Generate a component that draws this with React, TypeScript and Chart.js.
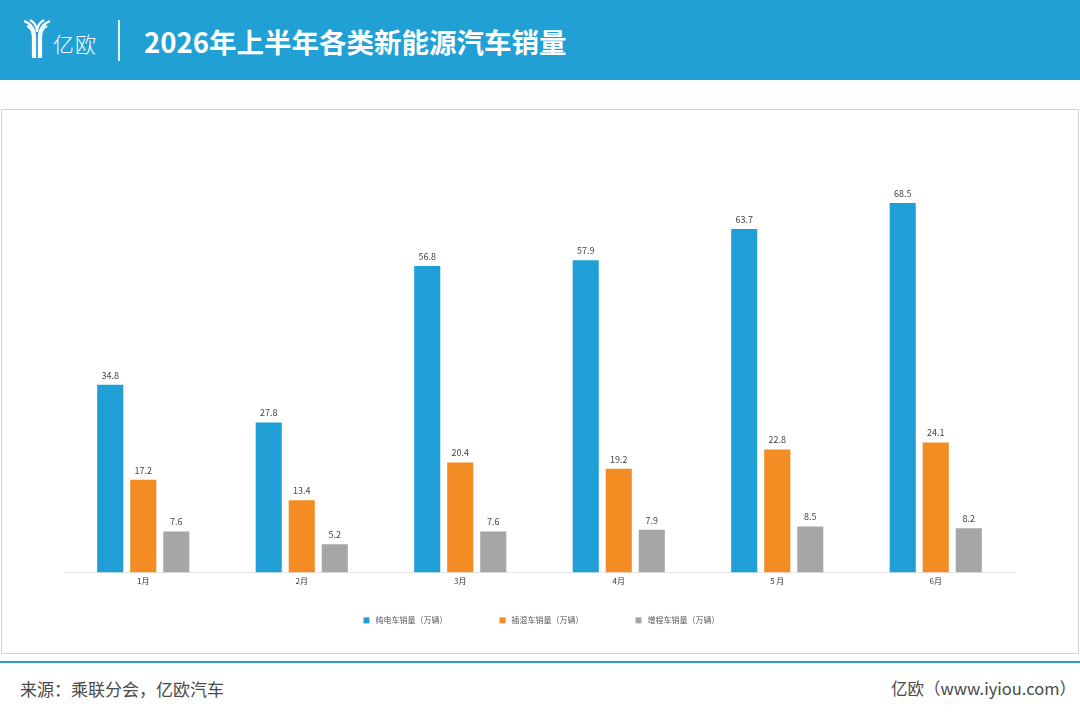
import React, { useEffect, useRef } from "react";
import { Chart, registerables } from "chart.js";

Chart.register(...registerables);

const categories = ["1月", "2月", "3月", "4月", "5 月", "6月"];
const seriesNames = ["纯电车销量（万辆）", "插混车销量（万辆）", "增程车销量（万辆）"];
const bevValues = [34.8, 27.8, 56.8, 57.9, 63.7, 68.5];
const phevValues = [17.2, 13.4, 20.4, 19.2, 22.8, 24.1];
const erevValues = [7.6, 5.2, 7.6, 7.9, 8.5, 8.2];
const seriesColors = ["#1f9fd6", "#f28c23", "#a6a5a7"];

const FONT = '"Noto Sans CJK SC", "Noto Sans", sans-serif';

const valueLabelPlugin = {
  id: "valueLabels",
  afterDatasetsDraw(chart: any) {
    const ctx = chart.ctx;
    ctx.save();
    ctx.font = `9px ${FONT}`;
    ctx.fillStyle = "#444";
    ctx.textAlign = "center";
    ctx.textBaseline = "bottom";
    chart.data.datasets.forEach((ds: any, i: number) => {
      const meta = chart.getDatasetMeta(i);
      meta.data.forEach((bar: any, j: number) => {
        ctx.fillText(String(ds.data[j]), bar.x, bar.y - 5);
      });
    });
    ctx.restore();
  },
};

// Legend drawn from the datasets, placed a fixed distance below the plot
const legendPlugin = {
  id: "bottomLegend",
  afterDraw(chart: any) {
    const ctx = chart.ctx;
    const area = chart.chartArea;
    const box = 6;
    const gapBoxText = 6;
    const gapItems = 52;
    ctx.save();
    ctx.font = `8px ${FONT}`;
    const items = chart.data.datasets.map((ds: any) => ({
      text: ds.label,
      color: ds.backgroundColor,
      w: box + gapBoxText + ctx.measureText(ds.label).width,
    }));
    const total = items.reduce((s: number, it: any) => s + it.w, 0) + gapItems * (items.length - 1);
    let x = (area.left + area.right) / 2 - total / 2 + 2;
    const y = area.bottom + 48;
    ctx.textBaseline = "middle";
    ctx.textAlign = "left";
    items.forEach((it: any) => {
      ctx.fillStyle = it.color;
      ctx.fillRect(x, y - box / 2, box, box);
      ctx.fillStyle = "#555";
      ctx.fillText(it.text, x + box + gapBoxText, y);
      x += it.w + gapItems;
    });
    ctx.restore();
  },
};

function Logo() {
  return (
    <svg width="30" height="42" viewBox="0 0 30 42" style={{ position: "absolute", left: 22, top: 18 }}>
      <g fill="none" stroke="#fff" strokeWidth="2.2">
        <path d="M2 3 C 10 6, 13 12, 13 20 L 13 40" />
        <path d="M5 8 C 10 10, 11 15, 11 20 L 11 40" />
        <path d="M28 3 C 20 6, 17 12, 17 20 L 17 40" />
        <path d="M25 8 C 20 10, 19 15, 19 20 L 19 40" />
        <path d="M8 2 C 12 4, 15 8, 15 14" />
        <path d="M22 2 C 18 4, 15 8, 15 14" />
      </g>
    </svg>
  );
}

export default function App() {
  const canvasRef = useRef<HTMLCanvasElement | null>(null);

  useEffect(() => {
    document.body.style.margin = "0";
    if (!canvasRef.current) return;
    const chart = new Chart(canvasRef.current, {
      type: "bar",
      data: {
        labels: categories,
        datasets: [bevValues, phevValues, erevValues].map((d, i) => ({
          label: seriesNames[i],
          data: d,
          backgroundColor: seriesColors[i],
          borderWidth: 0,
          categoryPercentage: 0.625,
          barPercentage: 0.79,
        })),
      },
      options: {
        responsive: false,
        animation: false,
        maintainAspectRatio: false,
        layout: { padding: { left: 62, right: 63, top: 31, bottom: 63 } },
        plugins: {
          legend: { display: false },
          tooltip: { enabled: false },
        },
        scales: {
          x: {
            grid: { display: false, drawTicks: false },
            border: { display: true, color: "#e6e4ec", width: 1 },
            ticks: { color: "#333", font: { size: 8, family: FONT }, padding: 4 },
          },
          y: {
            display: false,
            min: 0,
            max: 80,
          },
        },
      },
      plugins: [valueLabelPlugin, legendPlugin],
    });
    return () => chart.destroy();
  }, []);

  return (
    <div style={{ position: "relative", width: 1080, height: 716, background: "#fff", overflow: "hidden", fontFamily: FONT }}>
      <div style={{ position: "absolute", left: 0, top: 0, width: 1080, height: 80, background: "#21a0d6" }}>
        <Logo />
        <div style={{ position: "absolute", left: 53, top: 28, color: "#fff", fontSize: 21, fontWeight: 300, letterSpacing: 1 }}>亿欧</div>
        <div style={{ position: "absolute", left: 118, top: 20, width: 1.5, height: 41, background: "#e8f5fb" }} />
        <div style={{ position: "absolute", left: 144, top: 22, color: "#fff", fontSize: 27.5, fontWeight: 700, lineHeight: "38px" }}>
          2026年上半年各类新能源汽车销量
        </div>
      </div>
      <div style={{ position: "absolute", left: 0, top: 80, width: 1080, height: 29, background: "#fefefc" }} />
      <div style={{ position: "absolute", left: 1, top: 109, width: 1076, height: 543, border: "1px solid #d4d4d4", background: "#fff" }}>
        <canvas ref={canvasRef} width={1076} height={543} style={{ display: "block" }} />
      </div>
      <div style={{ position: "absolute", left: 0, top: 661, width: 1080, height: 2, background: "#2a9fcf" }} />
      <div style={{ position: "absolute", left: 20, top: 676, color: "#4a4a4a", fontSize: 17 }}>来源：乘联分会，亿欧汽车</div>
      <div style={{ position: "absolute", right: 4, top: 676, color: "#4a4a4a", fontSize: 16.5 }}>亿欧（www.iyiou.com）</div>
    </div>
  );
}
